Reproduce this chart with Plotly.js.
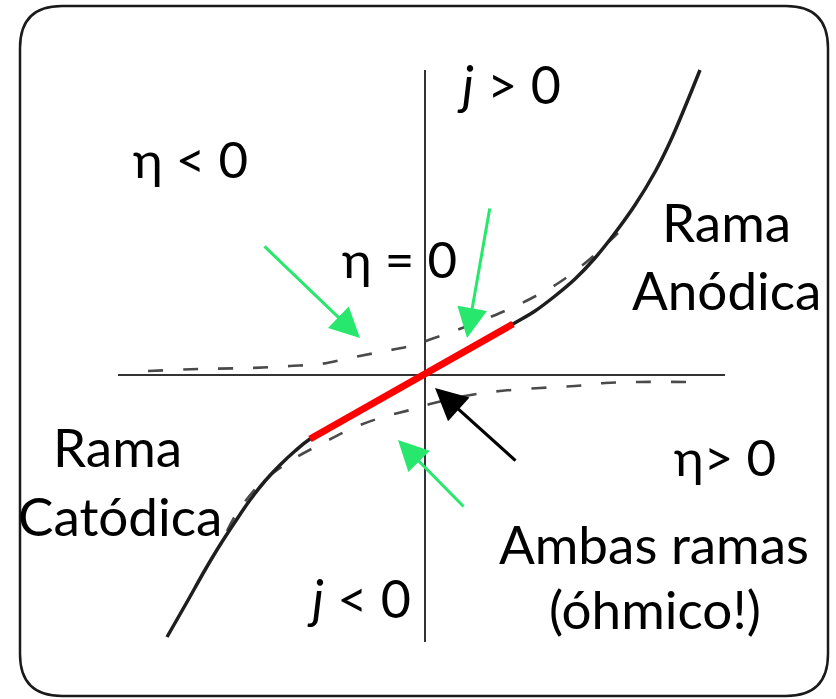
<!DOCTYPE html>
<html>
<head>
<meta charset="utf-8">
<script src="https://cdn.plot.ly/plotly-3.0.1.min.js"></script>
<style>
  html, body { margin: 0; padding: 0; background: #ffffff; }
  #chart { width: 836px; height: 699px; }
</style>
</head>
<body>
<div id="chart"></div>
<script>
// Overpotential (eta) and current density (j) in arbitrary units.

// Total current: the measured polarisation curve
const totalEta = [-2.58, -2.38, -2.20, -2.05, -1.90, -1.75, -1.60, -1.45, -1.30, -1.15, -0.60, 0.00, 0.45, 0.88, 1.10, 1.30, 1.50, 1.70, 1.90, 2.10, 2.30, 2.45, 2.60, 2.75];
const totalJ   = [-2.62, -2.27, -1.95, -1.70, -1.47, -1.25, -1.06, -0.90, -0.76, -0.64, -0.33, 0.00, 0.26, 0.51, 0.64, 0.79, 0.96, 1.17, 1.42, 1.70, 2.03, 2.33, 2.68, 3.05];

// Anodic partial current (dashed, upper)
const anodicEta = [-2.77, -2.25, -1.75, -1.35, -1.05, -0.75, -0.45, -0.15, 0.15, 0.45, 0.75, 1.05, 1.35, 1.65, 1.93];
const anodicJ   = [0.04, 0.06, 0.07, 0.09, 0.11, 0.17, 0.23, 0.29, 0.39, 0.50, 0.62, 0.76, 0.93, 1.16, 1.42];

// Cathodic partial current (dashed, lower)
const cathodicEta = [-1.98, -1.88, -1.65, -1.33, -1.02, -0.72, -0.42, -0.15, 0.05, 0.40, 0.75, 1.15, 1.50, 1.80, 2.15, 2.62];
const cathodicJ   = [-1.56, -1.38, -1.09, -0.85, -0.68, -0.53, -0.42, -0.35, -0.29, -0.21, -0.16, -0.13, -0.11, -0.08, -0.07, -0.07];

// Linear (ohmic) region around equilibrium
const linearEta = [-1.15, 0.88];
const linearJ   = [-0.64, 0.51];

// Axis extents
const etaAxis = [-3.07, 3.00];
const jAxis   = [-2.67, 3.05];

// Frame corners
const frameX = [-4.05, 4.03];
const frameY = [-3.21, 3.69];
const frameR = 0.42;

const traces = [
  { x: anodicEta, y: anodicJ, mode: 'lines', line: { color: '#4a4a4a', width: 2.6, dash: '15px,20px', shape: 'spline' }, hoverinfo: 'skip' },
  { x: cathodicEta, y: cathodicJ, mode: 'lines', line: { color: '#4a4a4a', width: 2.6, dash: '15px,20px', shape: 'spline' }, hoverinfo: 'skip' },
  { x: totalEta, y: totalJ, mode: 'lines', line: { color: '#1e1e1e', width: 3.5, shape: 'spline', smoothing: 1 }, hoverinfo: 'skip' },
  { x: linearEta, y: linearJ, mode: 'lines', line: { color: '#ff0000', width: 7 }, hoverinfo: 'skip' }
];

// rounded frame path
const [x0, x1] = frameX, [y0, y1] = frameY, r = frameR;
const framePath =
  `M ${x0 + r},${y1} L ${x1 - r},${y1} Q ${x1},${y1} ${x1},${y1 - r} ` +
  `L ${x1},${y0 + r} Q ${x1},${y0} ${x1 - r},${y0} ` +
  `L ${x0 + r},${y0} Q ${x0},${y0} ${x0},${y0 + r} ` +
  `L ${x0},${y1 - r} Q ${x0},${y1} ${x0 + r},${y1} Z`;

const shapes = [
  { type: 'path', xref: 'x', yref: 'y', path: framePath, line: { color: '#1a1a1a', width: 2.5 }, layer: 'below' },
  { type: 'line', xref: 'x', yref: 'y', x0: etaAxis[0], x1: etaAxis[1], y0: 0, y1: 0, line: { color: '#333333', width: 2 }, layer: 'below' },
  { type: 'line', xref: 'x', yref: 'y', x0: 0, x1: 0, y0: jAxis[0], y1: jAxis[1], line: { color: '#333333', width: 2 }, layer: 'below' }
];

const W = 836, H = 699;
const fontFam = 'Lato, "Open Sans", sans-serif';
function label(text, px, py, size) {
  return { text: text, xref: 'paper', yref: 'paper', x: px / W, y: 1 - py / H,
           xanchor: 'center', yanchor: 'middle', showarrow: false,
           font: { family: fontFam, size: size, color: '#000000' } };
}
const green = '#27e86c';
function arrow(tipX, tipY, tailX, tailY, color, width, size) {
  return { x: tipX, y: tipY, ax: tailX, ay: tailY, xref: 'x', yref: 'y', axref: 'x', ayref: 'y',
           text: '', showarrow: true, arrowhead: 2, arrowsize: size, arrowwidth: width,
           arrowcolor: color, standoff: 0, startstandoff: 0 };
}

const annotations = [
  label('<i>j</i> &gt; 0', 509, 84, 52),
  label('η &lt; 0', 190, 159, 51),
  label('η = 0', 399, 258, 51),
  label('Rama', 726, 222, 53),
  label('Anódica', 726, 289, 53),
  label('Rama', 118, 446, 53),
  label('Catódica', 120, 515, 53),
  label('η&gt; 0', 725, 456, 51),
  label('Ambas ramas', 654, 543, 53),
  label('(óhmico!)', 655, 608, 53),
  label('<i>j</i> &lt; 0', 359, 598, 52),
  arrow(-0.65, 0.37, -1.62, 1.30, green, 3, 2),
  arrow(0.42, 0.37, 0.65, 1.68, green, 3, 2),
  arrow(-0.27, -0.65, 0.40, -1.33, green, 3, 2),
  arrow(0.10, -0.13, 0.92, -0.87, '#000000', 3.2, 2)
];

const layout = {
  width: W, height: H,
  margin: { l: 0, r: 0, t: 0, b: 0, pad: 0 },
  paper_bgcolor: '#ffffff', plot_bgcolor: '#ffffff',
  showlegend: false,
  xaxis: { range: [-4.25, 4.11], visible: false, fixedrange: true },
  yaxis: { range: [-3.24, 3.75], visible: false, fixedrange: true },
  shapes: shapes,
  annotations: annotations
};

Plotly.newPlot('chart', traces, layout, { staticPlot: true, displayModeBar: false });
</script>
</body>
</html>
